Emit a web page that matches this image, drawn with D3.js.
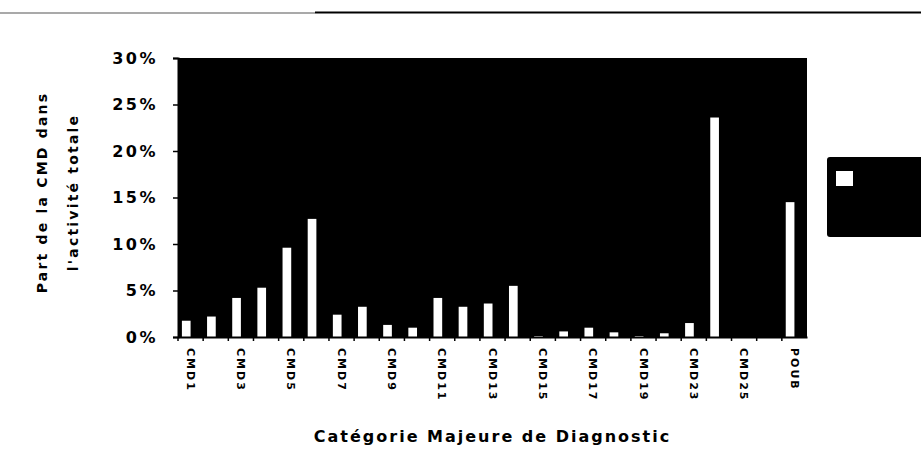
<!DOCTYPE html>
<meta charset="utf-8">
<script src="https://d3js.org/d3.v7.min.js"></script>
<style>
  body { margin: 0; background: #fff; }
  text { font-family: "DejaVu Sans", Arial, sans-serif; font-weight: bold; fill: #000; }
</style>
<div id="chart"></div>
<script>
// categories (CMD) and share of total activity, in %
var categories = ["CMD1","CMD2","CMD3","CMD4","CMD5","CMD6","CMD7","CMD8","CMD9","CMD10",
                  "CMD11","CMD12","CMD13","CMD14","CMD15","CMD16","CMD17","CMD18","CMD19","CMD21",
                  "CMD23","CMD24","CMD25","CMD26","POUB"];
var shares = [1.75, 2.2, 4.2, 5.3, 9.6, 12.7, 2.4, 3.25, 1.3, 1.0,
              4.2, 3.25, 3.6, 5.5, 0.1, 0.6, 1.0, 0.5, 0.1, 0.4,
              1.5, 23.6, 0, 0, 14.5];
var yTicks = [0, 5, 10, 15, 20, 25, 30];
var shownLabels = ["CMD1","CMD3","CMD5","CMD7","CMD9","CMD11","CMD13","CMD15","CMD17","CMD19","CMD23","CMD25","POUB"];

var W = 921, H = 471;
var margin = {top: 58, right: 114, bottom: 134, left: 178},
    width = W - margin.left - margin.right,
    height = H - margin.top - margin.bottom;

var root = d3.select("#chart").append("svg")
    .attr("width", W).attr("height", H);

// document rule at the top
root.append("line").attr("x1", 0).attr("x2", 315).attr("y1", 13).attr("y2", 13)
    .attr("stroke", "#555").attr("stroke-width", 1.2);
root.append("line").attr("x1", 315).attr("x2", W).attr("y1", 12.5).attr("y2", 12.5)
    .attr("stroke", "#000").attr("stroke-width", 2);

var svg = root.append("g")
    .attr("transform", "translate(" + margin.left + "," + margin.top + ")");

var x = d3.scaleBand().domain(categories).range([0, width]).padding(0);
var sub = d3.scaleBand().domain(["part", "autre"]).range([0, x.bandwidth()])
    .paddingInner(0).paddingOuter(0.45);
var y = d3.scaleLinear().domain([0, 30]).range([height, 0]);

// black plot area
svg.append("rect").attr("x", 0).attr("y", 0)
    .attr("width", width).attr("height", height).attr("fill", "#000");

// bars
svg.selectAll("rect.bar")
  .data(categories)
  .enter().append("rect")
    .attr("class", "bar")
    .attr("x", function(d){ return x(d) + sub("part"); })
    .attr("y", function(d, i){ return y(shares[i]); })
    .attr("width", sub.bandwidth())
    .attr("height", function(d, i){ return y(0) - y(shares[i]); })
    .attr("fill", "#fff");

// y axis
var yAxis = svg.append("g")
    .call(d3.axisLeft(y).tickValues(yTicks).tickSize(5).tickPadding(15)
      .tickFormat(function(d){ return d + "%"; }));
yAxis.select(".domain").attr("stroke", "#000").attr("stroke-width", 2);
yAxis.selectAll(".tick line").attr("stroke", "#000").attr("stroke-width", 1.5);
yAxis.selectAll("text")
    .style("font-size", "16px").style("letter-spacing", "2.5px")
    .attr("fill", "#000");

// x axis
var xAxis = svg.append("g")
    .attr("transform", "translate(0," + height + ")")
    .call(d3.axisBottom(x).tickSize(0).tickFormat(function(d){
      return shownLabels.indexOf(d) >= 0 ? d : "";
    }));
xAxis.select(".domain").attr("stroke", "#000").attr("stroke-width", 2);
xAxis.selectAll("text")
    .attr("transform", "rotate(90)")
    .attr("x", 11).attr("y", 0).attr("dy", "0.35em")
    .style("text-anchor", "start")
    .style("font-size", "11px").style("letter-spacing", "2px")
    .attr("fill", "#000");
// tick marks between categories
svg.selectAll("line.xt")
  .data(categories)
  .enter().append("line")
    .attr("class", "xt")
    .attr("x1", function(d){ return x(d); }).attr("x2", function(d){ return x(d); })
    .attr("y1", height).attr("y2", height + 4)
    .attr("stroke", "#000").attr("stroke-width", 1.5);

// axis titles
svg.append("text")
    .attr("text-anchor", "middle")
    .attr("transform", "translate(" + (width / 2) + "," + (height + 105) + ")")
    .style("font-size", "16px").style("letter-spacing", "2px")
    .text("Catégorie Majeure de Diagnostic");

var yTitle = svg.append("text")
    .attr("text-anchor", "middle")
    .attr("transform", "translate(" + (-margin.left + 47) + "," + (height / 2 - 5) + ")rotate(-90)")
    .style("font-size", "14px").style("letter-spacing", "2.2px");
yTitle.append("tspan").attr("x", 0).attr("dy", 0).text("Part de la CMD dans");
yTitle.append("tspan").attr("x", 0).attr("dy", "2.2em").text("l'activité totale");

// legend (black box, white swatch)
var legend = root.append("g")
    .attr("transform", "translate(" + (margin.left + width + 20) + "," + 157 + ")");
legend.append("rect").attr("x", 0).attr("y", 0).attr("width", 110).attr("height", 80)
    .attr("rx", 3).attr("fill", "#000");
legend.append("rect").attr("x", 9).attr("y", 14).attr("width", 17).attr("height", 15)
    .attr("fill", "#fff");
</script>
